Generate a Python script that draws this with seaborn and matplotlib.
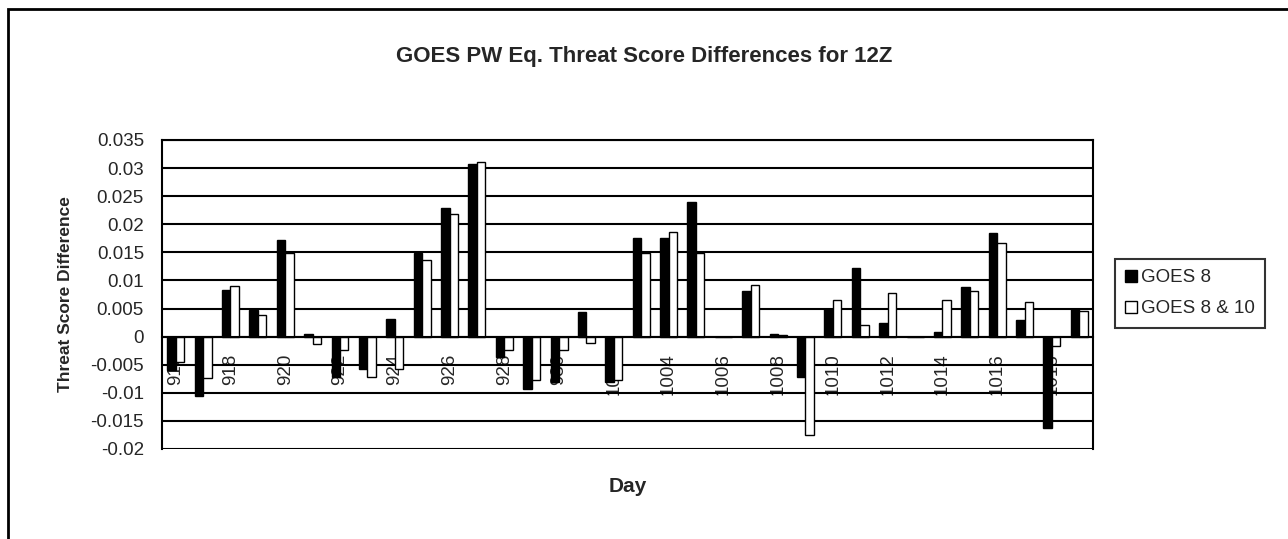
import seaborn as sns
import matplotlib.pyplot as plt
import pandas as pd
from matplotlib.ticker import FixedLocator
from matplotlib.patches import Rectangle

# days (Sept 16 - Oct 19)
days = [str(d) for d in range(916, 931)] + [str(d) for d in range(1001, 1020)]

# threat score differences
goes8 = [-0.0060, -0.0106, 0.0083, 0.0048, 0.0172, 0.0004, -0.0072, -0.0057,
         0.0032, 0.0148, 0.0229, 0.0308, -0.0037, -0.0093, -0.0080, 0.0044,
         -0.0080, 0.0176, 0.0176, 0.0240, 0.0, 0.0082, 0.0005, -0.0072,
         0.0050, 0.0123, 0.0024, 0.0, 0.0008, 0.0088, 0.0184, 0.0029,
         -0.0162, 0.0049]
goes8_10 = [-0.0045, -0.0073, 0.0090, 0.0038, 0.0148, -0.0013, -0.0024, -0.0072,
            -0.0057, 0.0136, 0.0218, 0.0310, -0.0024, -0.0078, -0.0024, -0.0012,
            -0.0077, 0.0148, 0.0187, 0.0148, 0.0, 0.0091, 0.0002, -0.0175,
            0.0065, 0.0021, 0.0078, 0.0, 0.0065, 0.0081, 0.0166, 0.0061,
            -0.0017, 0.0046]

series = ["GOES 8", "GOES 8 & 10"]
ytick_vals = [0.035, 0.03, 0.025, 0.02, 0.015, 0.01, 0.005, 0,
              -0.005, -0.01, -0.015, -0.02]
ytick_labels = ["0.035", "0.03", "0.025", "0.02", "0.015", "0.01", "0.005", "0",
                "-0.005", "-0.01", "-0.015", "-0.02"]

df = pd.DataFrame({
    "Day": days * 2,
    "Series": [series[0]] * len(days) + [series[1]] * len(days),
    "Value": goes8 + goes8_10,
})

sns.set_style("white")
plt.rcParams["font.family"] = ["Liberation Sans", "DejaVu Sans"]

fig = plt.figure(figsize=(12.88, 5.39), dpi=100)
# chart area frame (runs off the right and bottom edges)
fig.add_artist(Rectangle((8 / 1288, -0.1), 1.2, 1.1 - 9 / 539, transform=fig.transFigure,
                         fill=False, edgecolor="black", linewidth=2))
ax = fig.add_axes([0.1258, 0.167, 0.7228, 0.5733])

sns.barplot(data=df, x="Day", y="Value", hue="Series", order=days,
            hue_order=series, palette={"GOES 8": "black", "GOES 8 & 10": "white"},
            edgecolor="black", linewidth=1, width=0.62, ax=ax)

ax.set_xlim(-0.5, len(days) - 0.5)
ax.set_ylim(-0.02, 0.035)
ax.set_yticks(ytick_vals, ytick_labels)
ax.yaxis.grid(True, color="black", linewidth=1.5)
ax.set_axisbelow(True)

# category axis crosses at zero
ax.spines["bottom"].set_position(("data", 0))
ax.set_xticks(range(0, len(days), 2), [days[i] for i in range(0, len(days), 2)],
              rotation=90)
ax.xaxis.set_minor_locator(FixedLocator([i + 0.5 for i in range(-1, len(days))]))
ax.tick_params(axis="x", which="major", length=0, pad=12, labelsize=13.5)
ax.tick_params(axis="x", which="minor", direction="inout", length=8, width=1.2)
ax.tick_params(axis="y", direction="out", length=6, width=1.2, labelsize=13.5, pad=7)
for s in ax.spines.values():
    s.set_color("black")
    s.set_linewidth(1.5)

ax.set_xlabel("Day", fontsize=15, fontweight="bold")
ax.xaxis.set_label_coords(0.5, -0.09)
ax.set_ylabel("Threat Score Difference", fontsize=12.5, fontweight="bold")
ax.yaxis.set_label_coords(-0.096, 0.5)

fig.suptitle("GOES PW Eq. Threat Score Differences for 12Z", x=0.5, y=0.915,
             fontsize=16, fontweight="bold")

handles, labels = ax.get_legend_handles_labels()
ax.legend(handles, labels, loc="upper left", bbox_to_anchor=(0.8657, 0.5195),
          bbox_transform=fig.transFigure, borderaxespad=0, frameon=True,
          fancybox=False, edgecolor="black", fontsize=13.5, handlelength=0.6,
          handleheight=0.6, handletextpad=0.25, labelspacing=0.75,
          borderpad=0.55)
ax.get_legend().get_frame().set_linewidth(1.5)

fig.savefig("out.png", dpi=100)
